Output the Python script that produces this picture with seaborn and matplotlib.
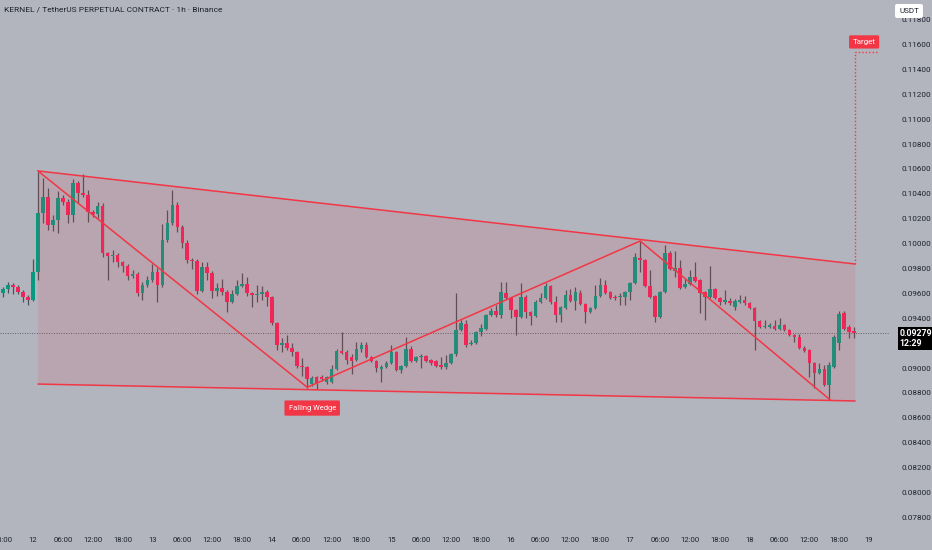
import numpy as np
import pandas as pd
import matplotlib
matplotlib.use("Agg")
import matplotlib.pyplot as plt
import seaborn as sns

# KERNEL/USDT perp, 1h candles starting 11th 18:00 (hour -6 from the 12th 00:00)
first_hour = -6
opens = [0.09603, 0.09635, 0.09667, 0.09651, 0.09611, 0.09571, 0.09547, 0.09772, 0.10246, 0.10375,
         0.10150, 0.10190, 0.10367, 0.10334, 0.10230, 0.10487, 0.10407, 0.10391, 0.10254, 0.10238,
         0.10302, 0.09924, 0.09900, 0.09908, 0.09852, 0.09820, 0.09740, 0.09756, 0.09603, 0.09667,
         0.09707, 0.09772, 0.09667, 0.10029, 0.10166, 0.10310, 0.10133, 0.10005, 0.09868, 0.09860,
         0.09619, 0.09812, 0.09764, 0.09619, 0.09643, 0.09611, 0.09531, 0.09595, 0.09659, 0.09675,
         0.09603, 0.09587, 0.09595, 0.09611, 0.09571, 0.09362, 0.09185, 0.09201, 0.09161, 0.09129,
         0.09016, 0.09008, 0.08871, 0.08928, 0.08928, 0.08888, 0.08888, 0.08992, 0.09137, 0.09129,
         0.09088, 0.09064, 0.09153, 0.09185, 0.09088, 0.09056, 0.08992, 0.09008, 0.09040, 0.09129,
         0.08984, 0.09016, 0.09153, 0.09056, 0.09088, 0.09096, 0.09064, 0.09056, 0.09024, 0.09008,
         0.09040, 0.09113, 0.09305, 0.09354, 0.09193, 0.09201, 0.09289, 0.09313, 0.09426, 0.09458,
         0.09426, 0.09603, 0.09563, 0.09466, 0.09410, 0.09571, 0.09450, 0.09418, 0.09531, 0.09563,
         0.09659, 0.09531, 0.09426, 0.09482, 0.09587, 0.09539, 0.09603, 0.09515, 0.09450, 0.09482,
         0.09579, 0.09667, 0.09611, 0.09571, 0.09571, 0.09571, 0.09611, 0.09683, 0.09884, 0.09868,
         0.09659, 0.09579, 0.09410, 0.09611, 0.09924, 0.09780, 0.09804, 0.09651, 0.09675, 0.09732,
         0.09707, 0.09611, 0.09571, 0.09635, 0.09563, 0.09531, 0.09539, 0.09490, 0.09531, 0.09547,
         0.09523, 0.09482, 0.09378, 0.09330, 0.09330, 0.09338, 0.09314, 0.09346, 0.09305, 0.09265,
         0.09249, 0.09161, 0.09145, 0.09040, 0.08960, 0.08992, 0.08863, 0.09008, 0.09201, 0.09442,
         0.09330, 0.09297]
highs = [0.09651, 0.09691, 0.09683, 0.09667, 0.09627, 0.09587, 0.09876, 0.10576, 0.10527, 0.10447,
         0.10230, 0.10423, 0.10391, 0.10359, 0.10519, 0.10503, 0.10560, 0.10431, 0.10270, 0.10334,
         0.10326, 0.09932, 0.09948, 0.09924, 0.09860, 0.09836, 0.09788, 0.09772, 0.09691, 0.09740,
         0.09836, 0.09804, 0.10158, 0.10270, 0.10431, 0.10334, 0.10150, 0.10029, 0.09884, 0.09876,
         0.09852, 0.09852, 0.09780, 0.09683, 0.09715, 0.09627, 0.09627, 0.09707, 0.09764, 0.09732,
         0.09611, 0.09667, 0.09659, 0.09627, 0.09579, 0.09370, 0.09241, 0.09265, 0.09201, 0.09137,
         0.09080, 0.09016, 0.08936, 0.08936, 0.08944, 0.08936, 0.09024, 0.09153, 0.09289, 0.09145,
         0.09113, 0.09209, 0.09209, 0.09209, 0.09096, 0.09064, 0.09024, 0.09056, 0.09185, 0.09137,
         0.09024, 0.09249, 0.09177, 0.09096, 0.09113, 0.09104, 0.09072, 0.09064, 0.09088, 0.09104,
         0.09121, 0.09603, 0.09386, 0.09386, 0.09225, 0.09297, 0.09354, 0.09434, 0.09482, 0.09506,
         0.09691, 0.09691, 0.09571, 0.09474, 0.09683, 0.09587, 0.09458, 0.09547, 0.09603, 0.09683,
         0.09667, 0.09579, 0.09498, 0.09627, 0.09635, 0.09651, 0.09627, 0.09523, 0.09490, 0.09667,
         0.09723, 0.09707, 0.09619, 0.09587, 0.09603, 0.09619, 0.09691, 0.09924, 0.10021, 0.09876,
         0.09788, 0.09587, 0.09619, 0.09989, 0.09940, 0.09940, 0.09868, 0.09715, 0.09788, 0.09852,
         0.09715, 0.09619, 0.09820, 0.09643, 0.09571, 0.09627, 0.09563, 0.09555, 0.09587, 0.09579,
         0.09531, 0.09490, 0.09386, 0.09386, 0.09362, 0.09386, 0.09402, 0.09354, 0.09313, 0.09273,
         0.09273, 0.09177, 0.09153, 0.09048, 0.09040, 0.09024, 0.09048, 0.09265, 0.09458, 0.09458,
         0.09346, 0.09330]
lows = [0.09571, 0.09603, 0.09595, 0.09595, 0.09530, 0.09507, 0.09540, 0.09707, 0.10166, 0.10109,
        0.10101, 0.10085, 0.10310, 0.10166, 0.10174, 0.10326, 0.10375, 0.10174, 0.10214, 0.10206,
        0.09892, 0.09707, 0.09852, 0.09812, 0.09772, 0.09707, 0.09723, 0.09579, 0.09547, 0.09651,
        0.09691, 0.09531, 0.09651, 0.10013, 0.10150, 0.10093, 0.09965, 0.09844, 0.09796, 0.09595,
        0.09611, 0.09707, 0.09563, 0.09579, 0.09587, 0.09450, 0.09523, 0.09587, 0.09651, 0.09579,
        0.09490, 0.09531, 0.09547, 0.09498, 0.09346, 0.09145, 0.09129, 0.09145, 0.09096, 0.09000,
        0.08936, 0.08839, 0.08855, 0.08831, 0.08895, 0.08871, 0.08880, 0.08984, 0.09113, 0.09032,
        0.08952, 0.09056, 0.09129, 0.09080, 0.09048, 0.08968, 0.08888, 0.09000, 0.09032, 0.08976,
        0.08960, 0.09008, 0.09048, 0.09048, 0.09000, 0.09048, 0.09024, 0.09008, 0.08992, 0.08992,
        0.09032, 0.09096, 0.09297, 0.09169, 0.09185, 0.09193, 0.09257, 0.09305, 0.09418, 0.09410,
        0.09402, 0.09555, 0.09402, 0.09265, 0.09402, 0.09402, 0.09346, 0.09410, 0.09523, 0.09555,
        0.09515, 0.09370, 0.09370, 0.09474, 0.09531, 0.09466, 0.09507, 0.09362, 0.09442, 0.09474,
        0.09571, 0.09595, 0.09555, 0.09547, 0.09507, 0.09507, 0.09547, 0.09675, 0.09772, 0.09651,
        0.09563, 0.09370, 0.09402, 0.09603, 0.09788, 0.09732, 0.09635, 0.09643, 0.09667, 0.09691,
        0.09442, 0.09386, 0.09563, 0.09555, 0.09507, 0.09515, 0.09507, 0.09466, 0.09523, 0.09507,
        0.09474, 0.09145, 0.09322, 0.09322, 0.09322, 0.09305, 0.09305, 0.09297, 0.09257, 0.09209,
        0.09153, 0.09129, 0.08928, 0.08839, 0.08952, 0.08855, 0.08743, 0.09000, 0.09145, 0.09305,
        0.09241, 0.09241]
closes = [0.09635, 0.09667, 0.09651, 0.09611, 0.09571, 0.09547, 0.09772, 0.10246, 0.10375, 0.10150,
          0.10190, 0.10367, 0.10334, 0.10230, 0.10487, 0.10407, 0.10391, 0.10254, 0.10238, 0.10302,
          0.09924, 0.09900, 0.09908, 0.09852, 0.09820, 0.09740, 0.09756, 0.09603, 0.09667, 0.09707,
          0.09772, 0.09667, 0.10029, 0.10166, 0.10310, 0.10133, 0.10005, 0.09868, 0.09860, 0.09619,
          0.09812, 0.09764, 0.09619, 0.09643, 0.09611, 0.09531, 0.09595, 0.09659, 0.09675, 0.09603,
          0.09587, 0.09595, 0.09611, 0.09571, 0.09362, 0.09185, 0.09201, 0.09161, 0.09129, 0.09016,
          0.09008, 0.08912, 0.08920, 0.08871, 0.08912, 0.08928, 0.08992, 0.09137, 0.09121, 0.09064,
          0.09056, 0.09153, 0.09185, 0.09088, 0.09056, 0.09000, 0.09008, 0.09040, 0.09129, 0.08984,
          0.09016, 0.09153, 0.09056, 0.09088, 0.09096, 0.09056, 0.09040, 0.09016, 0.09008, 0.09040,
          0.09113, 0.09305, 0.09362, 0.09185, 0.09201, 0.09289, 0.09322, 0.09426, 0.09458, 0.09426,
          0.09611, 0.09563, 0.09466, 0.09410, 0.09571, 0.09450, 0.09418, 0.09531, 0.09563, 0.09659,
          0.09531, 0.09426, 0.09490, 0.09587, 0.09539, 0.09611, 0.09515, 0.09450, 0.09482, 0.09579,
          0.09667, 0.09603, 0.09563, 0.09563, 0.09579, 0.09611, 0.09683, 0.09892, 0.09868, 0.09659,
          0.09571, 0.09410, 0.09611, 0.09924, 0.09796, 0.09804, 0.09643, 0.09675, 0.09732, 0.09699,
          0.09603, 0.09571, 0.09635, 0.09563, 0.09531, 0.09547, 0.09523, 0.09539, 0.09547, 0.09523,
          0.09482, 0.09378, 0.09330, 0.09338, 0.09346, 0.09314, 0.09346, 0.09305, 0.09265, 0.09249,
          0.09161, 0.09137, 0.09040, 0.08960, 0.08992, 0.08863, 0.09024, 0.09249, 0.09434, 0.09314,
          0.09289, 0.09279]

# drawn pattern (hour, price)
upper_hours, upper_prices = [1.0, 165.2], [0.10584, 0.09836]
lower_hours, lower_prices = [1.0, 165.2], [0.08871, 0.08735]
zigzag_hours = [1.0, 55.1, 122.0, 160.2]
zigzag_prices = [0.10584, 0.08845, 0.10021, 0.08743]
target_price = 0.11540
target_end_hour = 170.0
last_price = 0.09279

x_tick_hours = [-6, 0, 6, 12, 18, 24, 30, 36, 42, 48, 54, 60, 66, 72, 78, 84, 90, 96, 102, 108,
                114, 120, 126, 132, 138, 144, 150, 156, 162, 168]
x_tick_labels = ["18:00", "12", "06:00", "12:00", "18:00", "13", "06:00", "12:00", "18:00", "14",
                 "06:00", "12:00", "18:00", "15", "06:00", "12:00", "18:00", "16", "06:00", "12:00",
                 "18:00", "17", "06:00", "12:00", "18:00", "18", "06:00", "12:00", "18:00", "19"]
# 0.092 is hidden behind the last-price tag on the chart
y_ticks = [0.078, 0.080, 0.082, 0.084, 0.086, 0.088, 0.090, 0.094, 0.096, 0.098, 0.100,
           0.102, 0.104, 0.106, 0.108, 0.110, 0.112, 0.114, 0.116, 0.118]

BG = "#b2b5be"
UP = "#089981"
DOWN = "#f0245a"
LINE = "#f23645"
TXT = "#1e222d"

sns.set_theme(style="white", rc={"axes.facecolor": BG, "figure.facecolor": BG})
plt.rcParams["font.family"] = ["Liberation Sans Narrow", "Roboto", "DejaVu Sans"]

df = pd.DataFrame({"open": opens, "high": highs, "low": lows, "close": closes})
df["hour"] = np.arange(len(df)) + first_hour
df["up"] = df["close"] >= df["open"]

fig = plt.figure(figsize=(9.32, 5.5), dpi=100)
ax = fig.add_axes([0, 23 / 550, 890 / 932, 1 - 23 / 550])

# candles
ax.vlines(df["hour"], df["low"], df["high"], color="#4f5158", lw=0.9, zorder=2)
ax.bar(df["hour"], df["close"] - df["open"], bottom=df["open"], width=0.72,
       color=np.where(df["up"], UP, DOWN), edgecolor="none", zorder=3)

# wedge fill + lines
poly_x = upper_hours + upper_hours[::-1]
poly_y = upper_prices + lower_prices[::-1]
ax.fill(poly_x, poly_y, color=LINE, alpha=0.12, lw=0, zorder=4)
lines = pd.concat([
    pd.DataFrame({"hour": upper_hours, "price": upper_prices, "seg": "upper"}),
    pd.DataFrame({"hour": lower_hours, "price": lower_prices, "seg": "lower"}),
    pd.DataFrame({"hour": zigzag_hours, "price": zigzag_prices, "seg": "zigzag"}),
])
sns.lineplot(data=lines, x="hour", y="price", units="seg", estimator=None, sort=False,
             color=LINE, lw=1.1, ax=ax, zorder=5)

# target projection
ax.plot([upper_hours[1], upper_hours[1], target_end_hour],
        [upper_prices[1], target_price, target_price],
        color=LINE, lw=1, ls=(0, (1, 1.5)), zorder=5)
ax.text(167.0, 0.11621, "Target", color="white", fontsize=5.8, ha="center", va="center", zorder=6,
        bbox=dict(boxstyle="round,pad=0.45,rounding_size=0.15", fc=LINE, ec="none"))
ax.text(56.1, 0.08678, "Falling Wedge", color="white", fontsize=5.4, ha="center", va="center", zorder=6,
        bbox=dict(boxstyle="round,pad=0.55,rounding_size=0.15", fc=LINE, ec="none"))

# last price line + label
ax.axhline(last_price, color="#5d606b", lw=0.7, ls=(0, (1, 1.5)), zorder=1)
ax.annotate(f"{last_price:.5f}\n12:29", xy=(1, last_price), xycoords=("axes fraction", "data"),
            xytext=(7, -4), textcoords="offset points", ha="left", va="center",
            color="white", fontsize=6.3, fontweight="bold", linespacing=1.1, annotation_clip=False,
            bbox=dict(boxstyle="square,pad=0.25", fc="black", ec="none"))

ax.set_xlim(-6.63, 172.2)
ax.set_ylim(0.07722, 0.11958)
ax.set_xticks(x_tick_hours)
ax.set_xticklabels(x_tick_labels)
ax.set_yticks(y_ticks)
ax.set_yticklabels([f"{v:.5f}" for v in y_ticks])
ax.yaxis.tick_right()
ax.tick_params(axis="both", length=0, colors=TXT)
ax.tick_params(axis="x", pad=7, labelsize=5.6)
ax.tick_params(axis="y", pad=8, labelsize=5.9)
ax.set_xlabel("")
ax.set_ylabel("")
for s in ax.spines.values():
    s.set_visible(False)

fig.text(4 / 932, 1 - 10 / 550, "KERNEL / TetherUS PERPETUAL CONTRACT · 1h · Binance",
         fontsize=6, color=TXT, ha="left", va="center")
fig.text(909 / 932, 1 - 11 / 550, "USDT", fontsize=5.8, color=TXT, ha="center", va="center",
         bbox=dict(boxstyle="round,pad=0.5,rounding_size=0.25", fc="white", ec="none"))

fig.savefig("out.png", dpi=100, facecolor=BG)
